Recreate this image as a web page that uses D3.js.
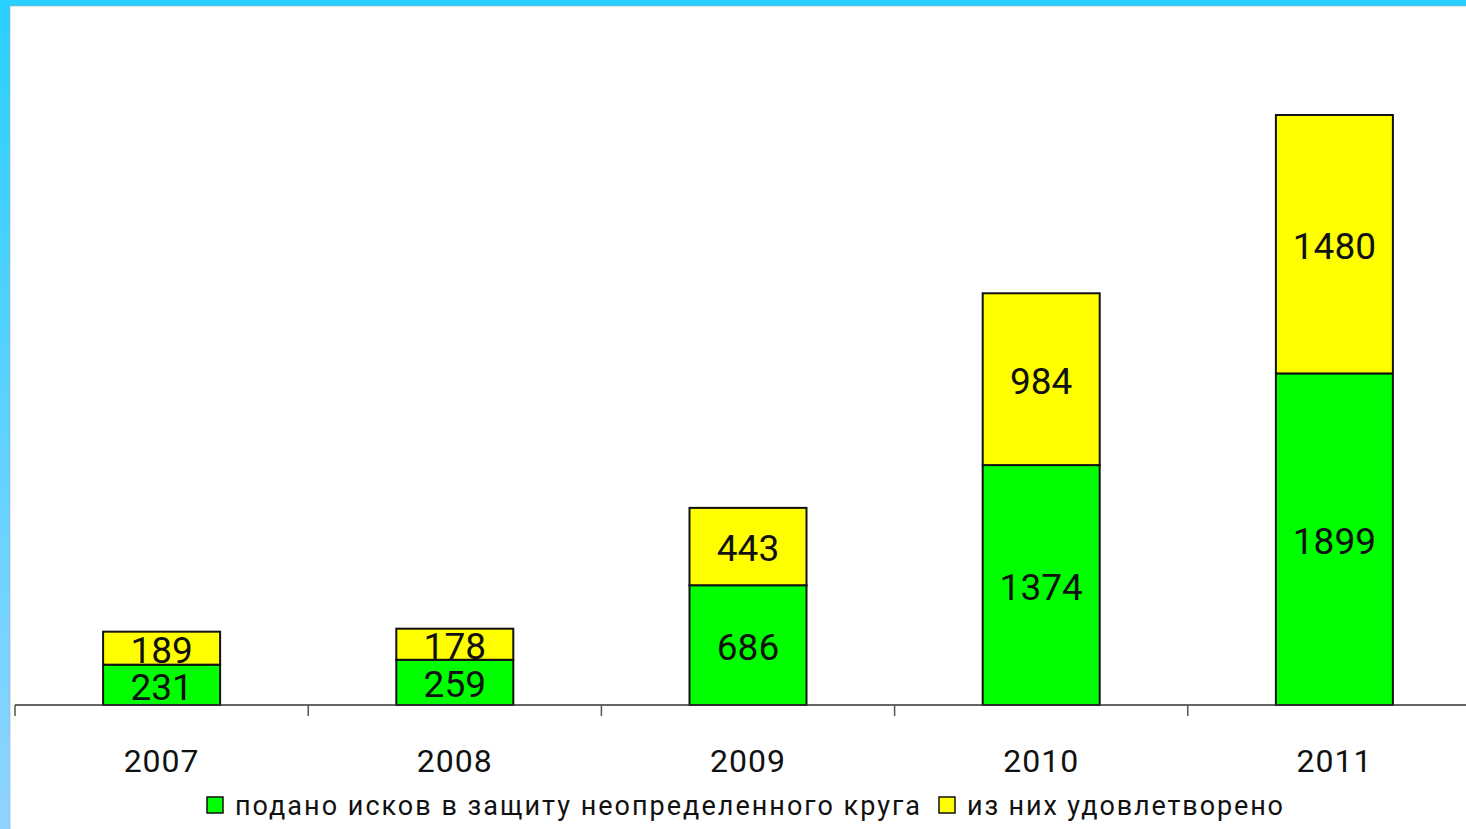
<!DOCTYPE html>
<html>
<head>
<meta charset="utf-8">
<script src="https://cdn.jsdelivr.net/npm/d3@7"></script>
<style>
  html, body { margin: 0; padding: 0; background: #fff; overflow: hidden; }
  svg { display: block; }
</style>
</head>
<body>
<div id="graphique"></div>
<script>
// Données
const annees = ["2007", "2008", "2009", "2010", "2011"];
const podano = [231, 259, 686, 1374, 1899];     // подано исков
const udovl = [189, 178, 443, 984, 1480];       // из них удовлетворено
const legendeTextes = ["подано исков в защиту неопределенного круга", "из них удовлетворено"];
const couleurs = ["#00ff00", "#ffff00"];

const W = 1466, H = 829;
const svg = d3.select("#graphique")
    .append("svg")
    .attr("width", W)
    .attr("height", H);

// Cadre bleu (haut + gauche en dégradé)
const defs = svg.append("defs");
const grad = defs.append("linearGradient").attr("id", "bord")
    .attr("x1", 0).attr("y1", 0).attr("x2", 0).attr("y2", 1);
grad.append("stop").attr("offset", "0%").attr("stop-color", "#29d0ff");
grad.append("stop").attr("offset", "100%").attr("stop-color", "#90d4ff");

svg.append("rect").attr("x", 0).attr("y", 0).attr("width", W).attr("height", 6).attr("fill", "#29d0ff");
svg.append("rect").attr("x", 0).attr("y", 0).attr("width", 10).attr("height", H).attr("fill", "url(#bord)");
svg.append("line").attr("x1", 10).attr("y1", 6).attr("x2", 10).attr("y2", H).attr("stroke", "#9ab").attr("stroke-width", 0.6);
svg.append("line").attr("x1", 10).attr("y1", 6).attr("x2", W).attr("y2", 6).attr("stroke", "#9ab").attr("stroke-width", 0.6);

// Echelles
const x0 = 15, pas = 293.2;
const x = d3.scaleBand()
    .domain(annees)
    .range([x0, x0 + pas * annees.length])
    .paddingInner(0)
    .paddingOuter(0);
const largeurBarre = 117;

const y = d3.scaleLinear()
    .domain([0, 3379])
    .range([705, 115]);

// Empilement
const donnees = annees.map((a, i) => ({ annee: a, podano: podano[i], udovl: udovl[i] }));
const pile = d3.stack().keys(["podano", "udovl"])(donnees);

const groupes = svg.append("g").selectAll("g")
    .data(pile)
    .join("g")
    .attr("fill", (d, i) => couleurs[i]);

groupes.selectAll("rect")
    .data(d => d)
    .join("rect")
    .attr("x", d => x(d.data.annee) + x.bandwidth() / 2 - largeurBarre / 2)
    .attr("y", d => y(d[1]))
    .attr("width", largeurBarre)
    .attr("height", d => y(d[0]) - y(d[1]))
    .attr("stroke", "#111")
    .attr("stroke-width", 2);

// Etiquettes de valeurs
groupes.selectAll("text")
    .data(d => d)
    .join("text")
    .attr("x", d => x(d.data.annee) + x.bandwidth() / 2)
    .attr("y", d => (y(d[0]) + y(d[1])) / 2)
    .attr("dy", "0.4em")
    .attr("text-anchor", "middle")
    .attr("fill", "#111")
    .style("font-family", "Roboto, 'Liberation Sans', sans-serif")
    .style("font-size", "37px")
    .text(d => d[1] - d[0]);

// Axe X
const axe = d3.axisBottom(x).tickSize(0).tickFormat("");
svg.append("g")
    .attr("transform", "translate(0,705)")
    .call(axe)
    .call(g => g.select(".domain").attr("d", `M${x0},0H${W + 20}`).attr("stroke", "#333").attr("stroke-width", 1.5));

// Graduations entre catégories
svg.append("g").selectAll("line")
    .data(annees)
    .join("line")
    .attr("x1", d => x(d)).attr("x2", d => x(d))
    .attr("y1", 705).attr("y2", 716)
    .attr("stroke", "#555").attr("stroke-width", 1.5);

// Libellés années
svg.append("g").selectAll("text")
    .data(annees)
    .join("text")
    .attr("x", d => x(d) + x.bandwidth() / 2)
    .attr("y", 772)
    .attr("text-anchor", "middle")
    .attr("fill", "#111")
    .style("font-family", "Roboto, 'Liberation Sans', sans-serif")
    .style("font-size", "32px")
    .style("letter-spacing", "1px")
    .text(d => d);

// Légende
const legende = [
    { texte: legendeTextes[0], couleur: couleurs[0], xc: 207, xt: 235, lt: 685 },
    { texte: legendeTextes[1], couleur: couleurs[1], xc: 939, xt: 967, lt: 316 }
];
const leg = svg.append("g").selectAll("g").data(legende).join("g");
leg.append("rect")
    .attr("x", d => d.xc).attr("y", 797)
    .attr("width", 16).attr("height", 16)
    .attr("fill", d => d.couleur)
    .attr("stroke", "#111").attr("stroke-width", 1.5);
leg.append("text")
    .attr("x", d => d.xt).attr("y", 815)
    .attr("textLength", d => d.lt)
    .attr("lengthAdjust", "spacing")
    .attr("fill", "#111")
    .style("font-family", "Roboto, 'Liberation Sans', sans-serif")
    .style("font-size", "27px")
    .text(d => d.texte);
</script>
</body>
</html>
